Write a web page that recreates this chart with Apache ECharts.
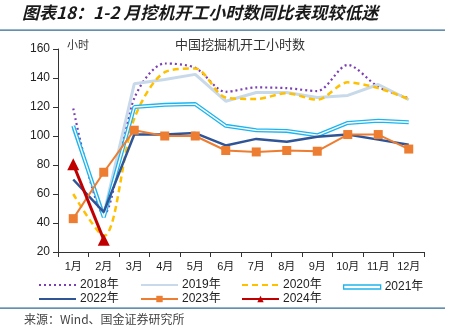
<!DOCTYPE html>
<html>
<head>
<meta charset="utf-8">
<script src="https://cdn.jsdelivr.net/npm/echarts@6/dist/echarts.min.js"></script>
<style>
  html, body { margin: 0; padding: 0; background: #fff; }
  #chart { width: 455px; height: 336px; }
</style>
</head>
<body>
<div id="chart"></div>
<script>
// Monthly excavator working hours in China (hours)
var months = ['1月', '2月', '3月', '4月', '5月', '6月', '7月', '8月', '9月', '10月', '11月', '12月'];
var yTicks = [20, 160, 20]; // min, max, interval

var y2018 = [119, 46, 126, 150, 147, 130.5, 133.5, 133, 131, 149, 134, 126];
var y2019 = [105, 46, 136, 139, 142.5, 124, 130, 130, 126.5, 128, 135.5, 125];
var y2020 = [60, 31, 112, 144, 146.5, 126.5, 125.5, 129.5, 125, 137, 133, 125.5];
var y2021 = [107, 44, 120, 121.5, 122, 107, 104, 103.5, 100.5, 109, 110.5, 109.5];
var y2022 = [70, 47.5, 101, 101, 102, 93.5, 98, 96, 99.5, 101, 97.5, 94];
var y2023 = [43, 75, 104, 100, 100, 90, 89, 90, 89.5, 101, 101, 91];
var y2024 = [80.5, 28.5];

var seriesNames = ['2018年', '2019年', '2020年', '2021年', '2022年', '2023年', '2024年'];

var chart = echarts.init(document.getElementById('chart'), null, { renderer: 'canvas' });

var txtFont = '"Liberation Sans", Arial, "Noto Sans CJK SC", sans-serif';
var cyan = '#1cb4ee';
var hidden = 'rgba(0,0,0,0)';

// legend slots: [name, left, vertical centre]
var legendSlots = [
  [seriesNames[0], 38, 283], [seriesNames[1], 140, 283], [seriesNames[2], 241, 283], [seriesNames[3], 343, 283],
  [seriesNames[4], 38, 297], [seriesNames[5], 140, 297], [seriesNames[6], 241, 297]
];
var noMarker = { '2018年': 1, '2019年': 1, '2020年': 1, '2022年': 1 };
var legends = legendSlots.map(function (s) {
  var item = { name: s[0] };
  var h = 8;
  if (s[0] === '2021年') {
    item.icon = 'rect';
    item.itemStyle = { color: '#fff', borderColor: cyan, borderWidth: 1.3 };
    h = 4;
  } else if (noMarker[s[0]]) {
    item.itemStyle = { color: hidden, borderColor: hidden, borderWidth: 0 };
  }
  return {
    data: [item],
    left: s[1],
    top: s[2] - h / 2,
    itemWidth: 37,
    itemHeight: h,
    itemGap: 0,
    padding: 0,
    selectedMode: false,
    textStyle: { fontSize: 12, color: '#222', fontFamily: txtFont, padding: [3, 0, 0, -1] }
  };
});

chart.setOption({
  animation: false,
  backgroundColor: '#fff',
  legend: legends,
  grid: { left: 58, right: 31, top: 49, bottom: 84, containLabel: false },
  xAxis: {
    type: 'category',
    data: months,
    boundaryGap: true,
    axisLine: { lineStyle: { color: '#333', width: 1 } },
    axisTick: { show: true, length: 5, lineStyle: { color: '#333' } },
    axisLabel: { fontSize: 11, color: '#222', fontFamily: txtFont, margin: 9 }
  },
  yAxis: {
    type: 'value',
    min: yTicks[0], max: yTicks[1], interval: yTicks[2],
    axisLine: { show: true, lineStyle: { color: '#333', width: 1 } },
    axisTick: { show: true, length: 5, lineStyle: { color: '#333' } },
    splitLine: { show: false },
    axisLabel: { fontSize: 12, color: '#222', fontFamily: txtFont, margin: 8 }
  },
  graphic: [
    {
      type: 'text', left: 22, top: 4,
      style: {
        text: '图表18：1-2 月挖机开工小时数同比表现较低迷',
        font: 'italic bold 17px "Noto Sans CJK SC", sans-serif',
        fill: '#1a1a1a'
      }
    },
    { type: 'rect', shape: { x: 0, y: 29.5, width: 445, height: 1.2 }, style: { fill: '#2f6b93' } },
    { type: 'rect', shape: { x: 0, y: 307.5, width: 445, height: 1.2 }, style: { fill: '#2f6b93' } },
    {
      type: 'text', left: 24, top: 313,
      style: { text: '来源：Wind、国金证券研究所', font: '12px "Noto Sans CJK SC", sans-serif', fill: '#444' }
    },
    {
      type: 'text', left: 67, top: 39,
      style: { text: '小时', font: '11px "Noto Sans CJK SC", sans-serif', fill: '#333' }
    },
    {
      type: 'text', left: 175, top: 38,
      style: { text: '中国挖掘机开工小时数', font: '13px "Noto Sans CJK SC", sans-serif', fill: '#333' }
    }
  ],
  series: [
    {
      name: '2018年', type: 'line', data: y2018, symbol: 'none', smooth: 0.3,
      lineStyle: { color: '#7b3fb5', width: 2.2, type: [2, 3] }, itemStyle: { color: '#7b3fb5' }, z: 2
    },
    {
      name: '2019年', type: 'line', data: y2019, symbol: 'none',
      lineStyle: { color: '#c8d9ea', width: 3 }, itemStyle: { color: '#c8d9ea' }, z: 2
    },
    {
      name: '2020年', type: 'line', data: y2020, symbol: 'none', smooth: 0.3,
      lineStyle: { color: '#ffc000', width: 2.5, type: [6, 4] }, itemStyle: { color: '#ffc000' }, z: 3
    },
    {
      name: '2021年', type: 'line', data: y2021, symbol: 'none',
      lineStyle: { color: cyan, width: 4 }, itemStyle: { color: cyan }, z: 3
    },
    {
      name: '2021年内线', type: 'line', data: y2021, symbol: 'none', silent: true,
      lineStyle: { color: '#fff', width: 1.4 }, itemStyle: { color: '#fff' }, z: 3
    },
    {
      name: '2022年', type: 'line', data: y2022, symbol: 'none',
      lineStyle: { color: '#2f5597', width: 2.5 }, itemStyle: { color: '#2f5597' }, z: 4
    },
    {
      name: '2023年', type: 'line', data: y2023, symbol: 'rect', symbolSize: 9,
      lineStyle: { color: '#ed7d31', width: 2 }, itemStyle: { color: '#ed7d31' }, z: 5
    },
    {
      name: '2024年', type: 'line', data: y2024, symbol: 'triangle', symbolSize: 12,
      lineStyle: { color: '#c00000', width: 3 }, itemStyle: { color: '#c00000' }, z: 6
    }
  ]
});
</script>
</body>
</html>
